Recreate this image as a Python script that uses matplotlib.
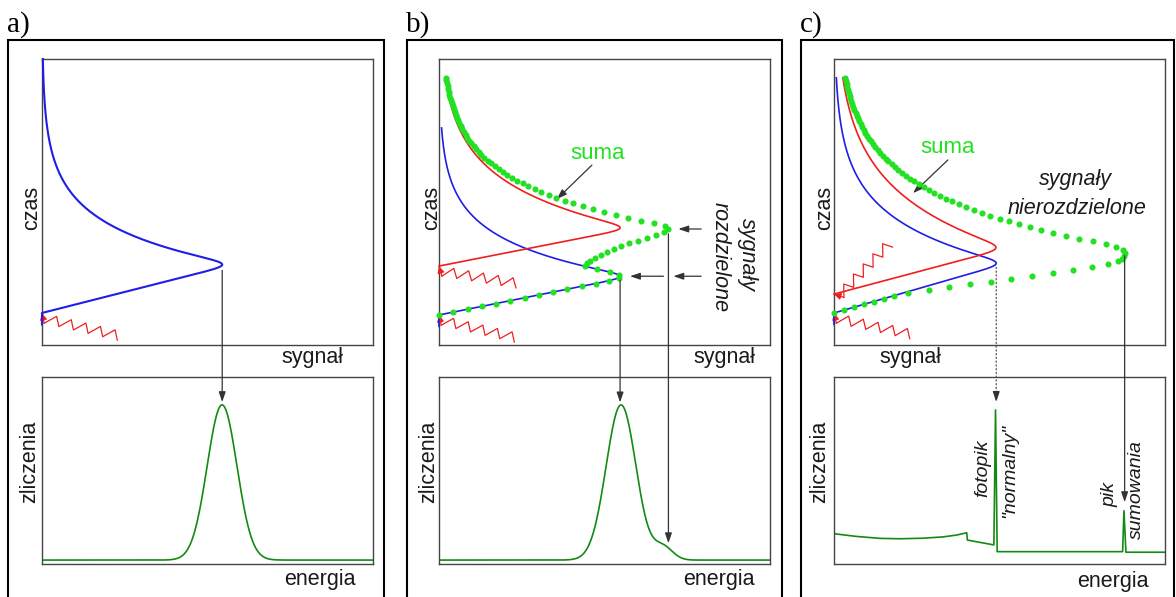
"""Pulse pile-up schematic: a single pulse, two resolved pulses and two
unresolved pulses, each with the energy spectrum it produces."""

import numpy as np
import matplotlib.pyplot as plt
from matplotlib.patches import Rectangle

W, H = 1176, 597

# pulses in axis units (time and signal both 0-100)
# [start, peak time, amplitude, decay constant, end]
blue_a = [11.2, 28.3, 54.4, 13.2, 100.0]
blue_b = [10.5, 24.1, 54.7, 12.0, 75.9]
red_b = [27.6, 40.9, 54.7, 15.4, 93.7]
blue_c = [11.2, 28.7, 49.0, 15.0, 93.4]
red_c = [17.8, 33.9, 48.9, 20.0, 93.4]

# spectra: gaussian lines [centre, sigma, height] on a flat floor
lines_a = [[54.4, 4.5, 83.0]]
lines_b = [[55.0, 4.5, 83.0], [67.7, 2.9, 7.0]]
floor_ab = 2.1

# c) spectrum with photopeak and sum peak
spec_c_x = [0.0, 6.5, 13.9, 20.0, 27.0, 33.0, 37.1, 40.1, 40.3, 48.3, 48.8,
            49.3, 87.2, 87.6, 88.2, 100.0]
spec_c_y = [16.2, 14.8, 13.7, 13.5, 13.8, 14.5, 15.5, 16.7, 12.8, 10.2, 82.4,
            6.6, 6.6, 28.5, 6.3, 6.3]

BLUE = "#1e1ee8"
RED = "#f01e1e"
LIME = "#22e022"
DKGREEN = "#138a13"
GREY = "#333333"
FRAME = "#444444"
TXT = "#1a1a1a"

AX_W, AX_H_TOP = 331.0, 286.0
PX_X = AX_W / 100
PX_Y = AX_H_TOP / 100

ARROW = dict(arrowstyle="-|>,head_length=0.5,head_width=0.17", color=GREY,
             lw=0.9, shrinkA=0, shrinkB=0, mutation_scale=12)

plt.rcParams["font.family"] = ["Liberation Sans", "DejaVu Sans"]
fig = plt.figure(figsize=(W / 100, H / 100), dpi=100)


def add_axes(l, t, r, b):
    ax = fig.add_axes([l / W, 1 - b / H, (r - l) / W, (b - t) / H])
    ax.set_xlim(0, 100)
    ax.set_ylim(0, 100)
    ax.set_xticks([])
    ax.set_yticks([])
    for s in ax.spines.values():
        s.set_color(FRAME)
        s.set_linewidth(1.0)
    return ax


def pulse(t, start, peak, amp, tau, p=10):
    r = np.clip((t - start) / (peak - start), 1e-6, None)
    d = np.exp(-(t - peak) / tau)
    x = amp * 2 ** (1 / p) * (r ** -p + d ** -p) ** (-1 / p)
    return np.where(t > start, x, 0.0)


def draw_pulse(ax, prm, color, lw=1.2, lead=0.0):
    t = np.linspace(prm[0] - lead, prm[4], 800)
    x = pulse(t, *prm[:4])
    ax.plot(x, t, color=color, lw=lw, clip_on=False, zorder=3)
    i = np.argmax(x)
    return x[i], t[i]


def draw_sum(ax, first, second, end):
    t = np.arange(first[0], end, 1.0)
    x = pulse(t, *first[:4]) + pulse(t, *second[:4])
    ax.plot(x, t, "o", ms=4.4, color=LIME, mec="none", clip_on=False, zorder=4)
    tt = np.linspace(first[0], end, 5000)
    xx = pulse(tt, *first[:4]) + pulse(tt, *second[:4])
    i = np.argmax(xx)
    return xx[i], tt[i]


def zigzag(ax, t0, angle, teeth=5, pitch=15.0, amp=9.5, steep=4.5):
    s, w = [0.0], [amp]
    for k in range(teeth + 1):
        s.append(k * pitch + steep)
        w.append(0.0)
        if k < teeth:
            s.append((k + 1) * pitch)
            w.append(amp)
    s, w = np.array(s), np.array(w)
    a = np.radians(angle)
    dx = s * np.cos(a) - w * np.sin(a)
    dy = s * np.sin(a) + w * np.cos(a)
    x = (dx - dx[0]) / PX_X
    y = t0 + (dy - dy[0]) / PX_Y
    ax.plot(x[1:], y[1:], color=RED, lw=0.9, clip_on=False, zorder=2)
    ax.annotate("", xy=(x[0], y[0]), xytext=(x[1], y[1]),
                arrowprops=dict(arrowstyle="-|>,head_length=0.5,head_width=0.25",
                                color=RED, lw=0.9, shrinkA=0, shrinkB=0,
                                mutation_scale=8))


def gauss_spectrum(x, lines, floor):
    y = np.full_like(x, floor)
    for c, s, h in lines:
        y = y + h * np.exp(-0.5 * ((x - c) / s) ** 2)
    return y


def drop_arrow(top, bot, x, t_from, y_to, dotted=False):
    props = dict(ARROW)
    if dotted:
        bot.annotate("", xy=(x, y_to + 5), xytext=(x, t_from), xycoords="data",
                     textcoords=top.transData,
                     arrowprops=dict(arrowstyle="-", color="#555555", lw=0.9,
                                     linestyle=(0, (1, 2)), shrinkA=0, shrinkB=0))
        bot.annotate("", xy=(x, y_to), xytext=(x, y_to + 5), arrowprops=props)
    else:
        bot.annotate("", xy=(x, y_to), xytext=(x, t_from), xycoords="data",
                     textcoords=top.transData, arrowprops=props)


def label(px, py, text, rot=0, **kw):
    fig.text(px / W, 1 - py / H, text, rotation=rot, ha="center", va="center",
             fontsize=15.5, color=TXT, **kw)


# outer frames and panel letters
for left, right, letter in [(8, 384, "a)"), (407, 782, "b)"), (801, 1174, "c)")]:
    fig.add_artist(Rectangle((left / W, 1 - 610 / H), (right - left) / W, 570 / H,
                             transform=fig.transFigure, fill=False, lw=1.5,
                             ec="black", clip_on=False))
    fig.text((left - 1) / W, 1 - 32 / H, letter, fontsize=21,
             family=["Liberation Serif", "DejaVu Serif"], va="baseline")

lefts = [42, 439, 834]
tops = [add_axes(l, 59, l + AX_W, 345) for l in lefts]
bots = [add_axes(l, 377, l + AX_W, 564) for l in lefts]

for px, py in [(31.5, 208), (431.5, 208), (825, 208)]:
    label(px, py, "czas", rot=90)
for px, py in [(30, 462), (428.5, 462), (819.5, 462)]:
    label(px, py, "zliczenia", rot=90)
for px, py in [(312, 358), (724, 358), (910, 357)]:
    label(px, py, "sygnał")
for px, py in [(320, 580), (719, 580), (1113, 581)]:
    label(px, py, "energia")

ex = np.linspace(0, 100, 1200)

# a) single pulse
top, bot = tops[0], bots[0]
zigzag(top, blue_a[0], -13)
bx, bt = draw_pulse(top, blue_a, BLUE, lw=1.5, lead=4)
spec = gauss_spectrum(ex, lines_a, floor_ab)
bot.plot(ex, spec, color=DKGREEN, lw=1.2)
drop_arrow(top, bot, bx, bt - 2.0, np.interp(bx, ex, spec) + 1.5)

# b) two resolved pulses
top, bot = tops[1], bots[1]
zigzag(top, blue_b[0], -13)
zigzag(top, red_b[0], -9)
bx, bt = draw_pulse(top, blue_b, BLUE, lead=4)
draw_pulse(top, red_b, RED)
gx, gt = draw_sum(top, blue_b, red_b, red_b[4])
spec = gauss_spectrum(ex, lines_b, floor_ab)
bot.plot(ex, spec, color=DKGREEN, lw=1.2)
drop_arrow(top, bot, bx, bt - 1.4, np.interp(bx, ex, spec) + 1.5)
drop_arrow(top, bot, gx, gt - 1.7, np.interp(gx, ex, spec) + 2.5)
top.annotate("", xy=(gx + 3.0, gt), xytext=(79.2, gt), arrowprops=ARROW)
top.annotate("", xy=(gx + 1.5, bt), xytext=(79.2, bt), arrowprops=ARROW)
top.annotate("", xy=(bx + 3.0, bt), xytext=(gx - 1.5, bt), arrowprops=ARROW)
top.text(48.0, 66.8, "suma", color=LIME, fontsize=16, ha="center", va="center")
top.annotate("", xy=(35.6, 51.0), xytext=(46.2, 62.9), arrowprops=ARROW)
top.text(93.1, 31.5, "sygnały", rotation=-90, style="italic", fontsize=15.5,
         color=TXT, ha="center", va="center")
top.text(84.9, 30.8, "rozdzielone", rotation=-90, style="italic", fontsize=15.5,
         color=TXT, ha="center", va="center")

# c) unresolved pulses (pile-up)
top, bot = tops[2], bots[2]
zigzag(top, blue_c[0], -12)
zigzag(top, red_c[0], 46, pitch=14.0)
bx, bt = draw_pulse(top, blue_c, BLUE, lead=4)
draw_pulse(top, red_c, RED)
gx, gt = draw_sum(top, blue_c, red_c, red_c[4])
bot.plot(spec_c_x, spec_c_y, color=DKGREEN, lw=1.2)
sx, sy = np.array(spec_c_x), np.array(spec_c_y)
drop_arrow(top, bot, bx, bt - 1.4, sy[np.abs(sx - bx) < 1.0].max() + 4.3, dotted=True)
drop_arrow(top, bot, gx, gt - 0.7, sy[np.abs(sx - gx) < 1.0].max() + 4.6)
top.text(34.4, 68.9, "suma", color=LIME, fontsize=16, ha="center", va="center")
top.annotate("", xy=(23.9, 53.1), xytext=(34.4, 64.7), arrowprops=ARROW)
top.text(72.8, 57.7, "sygnały", style="italic", fontsize=15.5, color=TXT,
         ha="center", va="center")
top.text(73.4, 47.6, "nierozdzielone", style="italic", fontsize=15.5, color=TXT,
         ha="center", va="center")
for x, y, s in [(45.0, 51.3, "fotopik"), (53.2, 49.7, '"normalny"'),
                (83.4, 36.9, "pik"), (91.5, 39.6, "sumowania")]:
    bot.text(x, y, s, rotation=90, style="italic", fontsize=14, color=TXT,
             ha="center", va="center")

fig.savefig("out.png", dpi=100)
